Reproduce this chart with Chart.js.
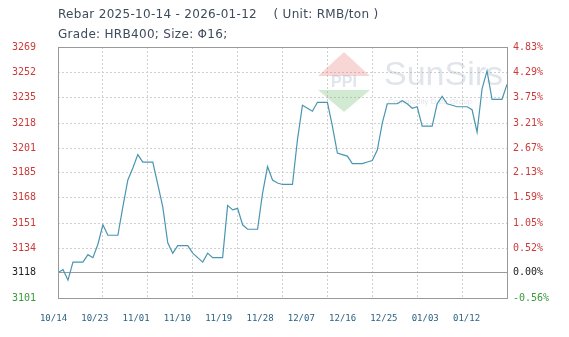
<!DOCTYPE html>
<html>
<head>
<meta charset="utf-8">
<script src="https://cdn.jsdelivr.net/npm/chart.js@4/dist/chart.umd.min.js"></script>
<style>
  html, body { margin: 0; padding: 0; background: #fff; }
  #wrap { position: relative; width: 569px; height: 337px; }
  #c { position: absolute; left: 0; top: 0; }
  .title { position: absolute; left: 58px; font-family: "DejaVu Sans", sans-serif; font-size: 12px; letter-spacing: 0.3px; color: #3d4b5c; white-space: pre; z-index: 2; }
</style>
</head>
<body>
<div id="wrap">
  <canvas id="c" width="569" height="337"></canvas>
  <div class="title" style="top:7px">Rebar 2025-10-14 - 2026-01-12    ( Unit: RMB/ton )</div>
  <div class="title" style="top:27px">Grade: HRB400; Size: Φ16;</div>
</div>
<script>
// daily prices, 2025-10-14 .. 2026-01-12 (RMB/ton)
const prices = [
  3118, 3120, 3113, 3125, 3125, 3125, 3130, 3128, 3137, 3150,
  3143, 3143, 3143, 3162, 3180, 3188, 3197, 3192, 3192, 3192,
  3177, 3162, 3138, 3131, 3136, 3136, 3136, 3131, 3128, 3125,
  3131, 3128, 3128, 3128, 3163, 3160, 3161, 3150, 3147, 3147,
  3147, 3171, 3189, 3180, 3178, 3177, 3177, 3177, 3207, 3230,
  3228, 3226, 3232, 3232, 3232, 3216, 3198, 3197, 3196, 3191,
  3191, 3191, 3192, 3193, 3200, 3218, 3231, 3231, 3231, 3233,
  3231, 3228, 3229, 3216, 3216, 3216, 3231, 3236, 3231, 3230,
  3229, 3229, 3229, 3227, 3212, 3241, 3253, 3234, 3234, 3234,
  3244
];
const basePrice = 3118;
const xTickLabels = ['10/14', '10/23', '11/01', '11/10', '11/19', '11/28', '12/07', '12/16', '12/25', '01/03', '01/12'];
const yTicks = [3101, 3118, 3134, 3151, 3168, 3185, 3201, 3218, 3235, 3252, 3269];
const pctTicks = ['-0.56%', '0.00%', '0.52%', '1.05%', '1.59%', '2.13%', '2.67%', '3.21%', '3.75%', '4.29%', '4.83%'];

const tickColor = ctx => {
  const v = ctx.tick ? ctx.tick.value : 0;
  if (v > basePrice) return '#cc3b3b';
  if (v < basePrice) return '#3a9a3a';
  return '#222';
};
const isBase = ctx => ctx.tick && ctx.tick.value === basePrice;

// frame round the plot + faint watermark
const framePlugin = {
  id: 'frame',
  beforeDatasetsDraw(chart) {
    const { ctx } = chart;
    ctx.save();
    ctx.globalAlpha = 0.28;
    const cx = 344, cy = 82;
    ctx.fillStyle = '#e86a6a';
    ctx.beginPath(); ctx.moveTo(cx - 26, cy - 6); ctx.lineTo(cx, cy - 30); ctx.lineTo(cx + 26, cy - 6); ctx.closePath(); ctx.fill();
    ctx.fillStyle = '#5fb35f';
    ctx.beginPath(); ctx.moveTo(cx - 26, cy + 8); ctx.lineTo(cx, cy + 30); ctx.lineTo(cx + 26, cy + 8); ctx.closePath(); ctx.fill();
    ctx.fillStyle = '#8f9fb8';
    ctx.font = 'bold 16px "Liberation Sans", sans-serif';
    ctx.textAlign = 'center';
    ctx.textBaseline = 'middle';
    ctx.fillText('PPI', cx, cy + 1);
    ctx.textAlign = 'left';
    ctx.font = '34px "Liberation Sans", sans-serif';
    ctx.fillText('SunSirs', 384, 76);
    ctx.font = '8px "Liberation Sans", sans-serif';
    ctx.fillText('Commodity Data Group', 388, 102);
    ctx.restore();
  },
  afterDraw(chart) {
    const { ctx, chartArea: a } = chart;
    ctx.save();
    ctx.strokeStyle = '#999';
    ctx.lineWidth = 1;
    ctx.strokeRect(Math.round(a.left) + 0.5, Math.round(a.top) + 0.5, Math.round(a.right - a.left), Math.round(a.bottom - a.top));
    ctx.restore();
  }
};

new Chart(document.getElementById('c'), {
  type: 'line',
  data: {
    datasets: [{
      data: prices.map((p, i) => ({ x: i, y: p })),
      borderColor: '#4a95b0',
      borderWidth: 1.2,
      pointRadius: 0,
      tension: 0,
      fill: false
    }]
  },
  options: {
    responsive: false,
    animation: false,
    layout: { padding: { top: 47, left: 0, right: 0, bottom: 0 } },
    plugins: { legend: { display: false }, tooltip: { enabled: false }, title: { display: false } },
    scales: {
      x: {
        type: 'linear', position: 'bottom', min: 0, max: prices.length - 1,
        ticks: { display: false, stepSize: 9 },
        grid: { color: '#d0d0d0', drawTicks: false },
        border: { display: false, dash: [2, 2] },
        afterFit: s => { s.height = 0; }
      },
      x2: {
        type: 'linear', position: 'bottom', min: 0.109, max: 10.98,
        grid: { display: false },
        border: { display: false },
        afterBuildTicks: s => { s.ticks = xTickLabels.map((_, i) => ({ value: i })); },
        ticks: {
          autoSkip: false, maxRotation: 0, padding: 7, color: '#2b6283',
          font: { family: 'DejaVu Sans Mono', size: 9 },
          callback: (v, i) => xTickLabels[i]
        },
        afterFit: s => { s.height = 39; }
      },
      y: {
        type: 'linear', position: 'left', min: yTicks[0], max: yTicks[yTicks.length - 1],
        afterBuildTicks: s => { s.ticks = yTicks.map(v => ({ value: v })); },
        ticks: {
          padding: 22, color: tickColor,
          font: { family: 'DejaVu Sans Mono', size: 10 },
          callback: v => String(v)
        },
        grid: { color: ctx => isBase(ctx) ? '#999' : '#d0d0d0', drawTicks: false },
        border: { display: false, dash: ctx => isBase(ctx) ? [] : [2, 2] },
        afterFit: s => { s.width = 58; }
      },
      y2: {
        type: 'linear', position: 'right', min: yTicks[0], max: yTicks[yTicks.length - 1],
        afterBuildTicks: s => { s.ticks = yTicks.map(v => ({ value: v })); },
        ticks: {
          padding: 6, color: tickColor,
          font: { family: 'DejaVu Sans Mono', size: 10 },
          callback: (v, i) => pctTicks[i]
        },
        grid: { display: false, drawTicks: false },
        border: { display: false },
        afterFit: s => { s.width = 62; }
      }
    }
  },
  plugins: [framePlugin]
});
</script>
</body>
</html>
